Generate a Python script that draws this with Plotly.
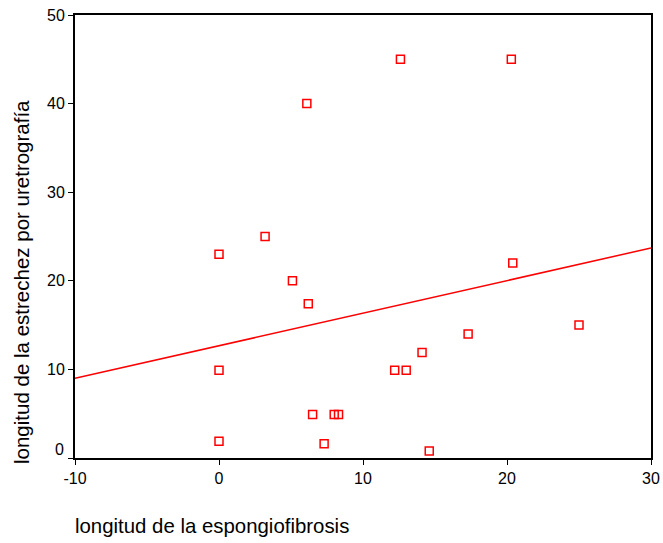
import numpy as np
import plotly.graph_objects as go

# longitud de la espongiofibrosis (x) vs longitud de la estrechez por uretrografía (y)
espongiofibrosis = [12.6, 20.3, 6.1, 0.0, 3.2, 5.1, 6.2, 20.4, 25.0, 17.3,
                    14.1, 12.2, 13.0, 0.0, 6.5, 8.0, 8.3, 7.3, 0.0, 14.6]
estrechez = [45.0, 45.0, 40.0, 23.0, 25.0, 20.0, 17.4, 22.0, 15.0, 14.0,
             11.9, 9.9, 9.9, 9.9, 4.9, 4.9, 4.9, 1.6, 1.9, 0.8]

x_ticks = [-10, 0, 10, 20, 30]
x_tick_labels = ["-10", "0", "10", "20", "30"]
y_ticks = [0, 10, 20, 30, 40, 50]
y_tick_labels = ["", "10", "20", "30", "40", "50"]
y_zero_label = "0"
x_range = [-10, 30]
y_range = [0, 50]

slope, intercept = np.polyfit(espongiofibrosis, estrechez, 1)
fit_x = np.array(x_range, dtype=float)
fit_y = intercept + slope * fit_x

red = "#ff0000"
font_family = "Liberation Sans, Arial, sans-serif"

fig = go.Figure()
fig.add_trace(go.Scatter(
    x=espongiofibrosis, y=estrechez, mode="markers",
    marker=dict(symbol="square-open", size=8, color=red, line=dict(width=1.5, color=red)),
    showlegend=False, hoverinfo="skip"))
fig.add_trace(go.Scatter(
    x=fit_x, y=fit_y, mode="lines",
    line=dict(color=red, width=1.5),
    showlegend=False, hoverinfo="skip"))

axis_common = dict(showgrid=False, zeroline=False, automargin=False,
                   showline=True, linecolor="black", linewidth=2, mirror=True,
                   ticks="outside", ticklen=5, tickwidth=1, tickcolor="black",
                   tickfont=dict(size=16))

fig.update_layout(
    width=663, height=543,
    margin=dict(l=75, r=12, t=15, b=85),
    paper_bgcolor="white", plot_bgcolor="white",
    font=dict(family=font_family, size=16, color="black"),
    xaxis=dict(range=x_range, tickvals=x_ticks, ticktext=x_tick_labels, **axis_common),
    yaxis=dict(range=y_range, tickvals=y_ticks, ticktext=y_tick_labels, **axis_common),
    annotations=[
        dict(text=y_zero_label, xref="paper", yref="y", x=0, y=0,
             xanchor="right", yanchor="middle", xshift=-9, yshift=9,
             showarrow=False, font=dict(size=16)),
        dict(text="longitud de la espongiofibrosis", xref="paper", yref="paper",
             x=0, y=0, xanchor="left", yanchor="middle", yshift=-68, xshift=-2,
             showarrow=False, font=dict(size=20.4)),
        dict(text="longitud de la estrechez por uretrografía", xref="paper", yref="paper",
             x=0, y=0, xanchor="center", yanchor="middle", textangle=-90,
             xshift=-54, yshift=176,
             showarrow=False, font=dict(size=20.5)),
    ],
)

fig.write_html(
    "out.html",
    config={"displayModeBar": False},
    post_script="document.body.style.margin='0';document.body.style.padding='0';"
                "document.body.style.overflow='hidden';",
)
